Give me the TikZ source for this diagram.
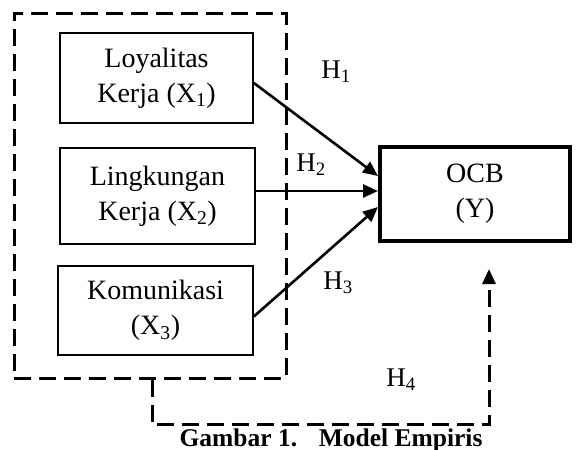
\documentclass[tikz,border=0pt]{standalone}
\usepackage{fontspec}
\setmainfont{Liberation Serif}
\usetikzlibrary{arrows.meta,calc}
\tikzset{
  varbox/.style={draw, line width=1.7pt, inner sep=0pt, align=center,
    font=\fontsize{28}{35}\selectfont},
  ocbbox/.style={draw, line width=4pt, inner sep=0pt, align=center,
    font=\fontsize{28}{35}\selectfont},
  groupbox/.style={draw, line width=3pt, dash pattern=on 17pt off 8pt, inner sep=0pt},
  hyparrow/.style={line width=2.6pt, -{Triangle[length=15pt,width=13pt]}},
  dasharrow/.style={line width=3pt, dash pattern=on 17pt off 8pt, -{Triangle[length=15pt,width=13pt]}},
  hlabel/.style={font=\fontsize{27}{30}\selectfont, inner sep=0pt},
  caption/.style={font=\bfseries\fontsize{25.5}{30}\selectfont, inner sep=0pt}
}
\begin{document}
\begin{tikzpicture}[x=1pt,y=-1pt]
\useasboundingbox (0,0) rectangle (576,450);
\node[groupbox, minimum width=272pt, minimum height=365pt] (outer) at (150,195.5) {};
\node[varbox, minimum width=193pt, minimum height=90pt] (b1) at (156.5,78) {Loyalitas\\Kerja (X\textsubscript{1})};
\node[varbox, minimum width=195pt, minimum height=96pt] (b2) at (157.5,196) {Lingkungan\\Kerja (X\textsubscript{2})};
\node[varbox, minimum width=195pt, minimum height=89pt] (b3) at (155.5,310.5) {Komunikasi\\(X\textsubscript{3})};
\node[ocbbox, minimum width=190pt, minimum height=94pt] (ocb) at (475,194) {OCB\\(Y)};
\draw[hyparrow] ($(b1.east)+(0,5)$) -- ($(ocb.west)+(0,-18)$);
\draw[hyparrow] ($(b2.east)+(0,-5)$) -- ($(ocb.west)+(0,-3)$);
\draw[hyparrow] ($(b3.east)+(0,6)$) -- ($(ocb.west)+(0,13)$);
\draw[dasharrow] ($(outer.south)+(2,0)$) -- ++(0,45) -| ($(ocb.south)+(14,26)$);
\node[hlabel] (h1) at (336,72) {H\textsubscript{1}};
\node[hlabel] (h2) at (311,165) {H\textsubscript{2}};
\node[hlabel] (h3) at (338,283) {H\textsubscript{3}};
\node[hlabel] (h4) at (401,380) {H\textsubscript{4}};
\node[caption, anchor=base] (cap) at (331,446) {Gambar 1.\hspace{0.85em}Model Empiris};
\end{tikzpicture}
\end{document}
